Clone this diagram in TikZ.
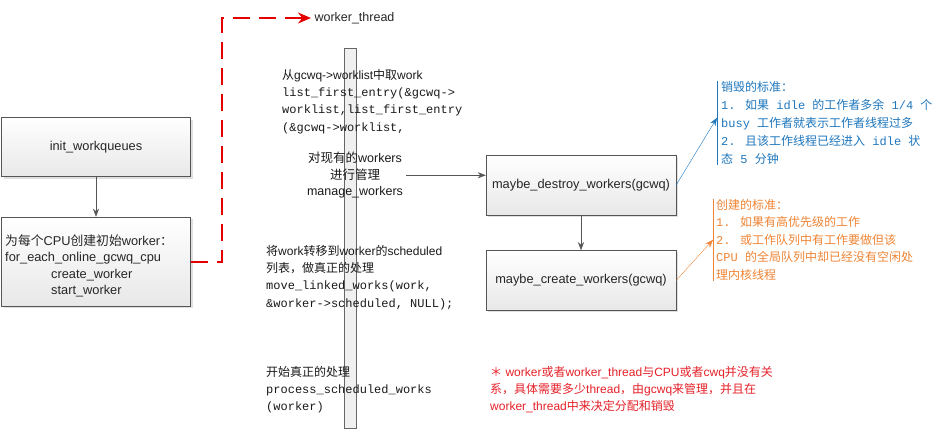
\documentclass[tikz,border=0pt]{standalone}
\usepackage{fontspec}
\setmainfont{Liberation Sans}
\newfontfamily\cjk{Noto Sans CJK SC}
\newfontfamily\mono{Liberation Mono}
\newcommand{\zh}[1]{{\cjk #1}}
\usetikzlibrary{arrows.meta,positioning,shadows}
\definecolor{boxline}{RGB}{85,85,85}
\definecolor{killblue}{RGB}{30,118,188}
\definecolor{makeorange}{RGB}{238,132,52}
\definecolor{noteRed}{RGB}{228,32,40}
\tikzstyle{box} = [rectangle, minimum width=189pt, minimum height=59pt,
draw=boxline, top color=white, bottom color=black!9, text=black!85,
drop shadow={opacity=0.25,shadow xshift=2pt,shadow yshift=-2pt},
font=\fontsize{12.8}{16.5}\selectfont]
\tikzstyle{note} = [anchor=north west, align=left, inner sep=0pt,
text=black!90, font=\fontsize{12}{17.3}\selectfont]
\tikzstyle{arrow} = [draw=boxline, -{Stealth[length=8pt,width=6pt]}]
\tikzstyle{reddash} = [draw=red!90!black, line width=2.4pt, dash pattern=on 17pt off 9pt,
-{Stealth[length=13pt,width=11pt]}]
\tikzset{>=stealth}

\begin{document}
\begin{tikzpicture}[x=1pt,y=-1pt]
    \useasboundingbox (0,0) rectangle (941,431);
    % left column
    \node[box] (init) at (96,147) {init\_workqueues};
    \node[box, minimum height=89pt, below=40pt of init] (percpu) {};
    \node[note, text=black!85, font=\fontsize{12.8}{16.5}\selectfont] (percputext) at (5,234)
        {\zh{为每个}CPU\zh{创建初始}worker\zh{：}\\
         for\_each\_online\_gcwq\_cpu\\
         \hspace*{46pt}create\_worker\\
         \hspace*{46pt}start\_worker};
    \draw[arrow] (init) -- (percpu);
    % worker_thread
    \node[anchor=west, text=black!85, font=\fontsize{12.5}{14}\selectfont] (thread) at (311,18) {worker\_thread};
    \coordinate (bend) at (222,262);
    \draw[reddash] (percpu.east |- bend) -- (bend) |- (thread.west);
    % the thread body
    \node[draw=black!60, fill=black!6, minimum width=12pt, minimum height=380pt, inner sep=0pt] (spine) at (350,238) {};
    \node[note] (fetch) at (282,69)
        {\zh{从}gcwq->worklist\zh{中取}work\\
         {\mono list\_first\_entry(\&gcwq->}\\
         {\mono worklist,list\_first\_entry}\\
         {\mono (\&gcwq->worklist,}};
    \node[note, anchor=north, align=center, font=\fontsize{12.5}{16.5}\selectfont] (manage) at (355,152)
        {\zh{对现有的}workers\\ \zh{进行管理}\\ manage\_workers};
    \node[note] (move) at (266,245)
        {\zh{将}work\zh{转移到}worker\zh{的}scheduled\\
         \zh{列表，做真正的处理}\\
         {\mono move\_linked\_works(work,}\\
         {\mono \&worker->scheduled, NULL);}};
    \node[note] (process) at (266,366)
        {\zh{开始真正的处理}\\
         {\mono process\_scheduled\_works}\\
         {\mono (worker)}};
    % right column
    \node[box, minimum width=190pt, minimum height=60pt] (destroy) at (581,185) {maybe\_destroy\_workers(gcwq)};
    \node[box, minimum width=190pt, minimum height=60pt, below=35pt of destroy] (create) {maybe\_create\_workers(gcwq)};
    \draw[arrow] ([xshift=3pt]manage.east) -- (manage.east -| destroy.west);
    \draw[arrow] (destroy) -- (create);
    % criteria
    \node[note, text=killblue, font=\mono\fontsize{12}{18}\selectfont] (kill) at (721,81)
        {\zh{销毁的标准：}\\
         1. \zh{如果} idle \zh{的工作者多余} 1/4 \zh{个}\\
         busy \zh{工作者就表示工作者线程过多}\\
         2. \zh{且该工作线程已经进入} idle \zh{状}\\
         \zh{态} 5 \zh{分钟}};
    \draw[killblue] ([xshift=-4pt]kill.north west) -- ([xshift=-4pt]kill.south west);
    \draw[killblue, -{Stealth[length=8pt,width=6pt]}] (destroy.east) -- ([xshift=-4pt,yshift=5pt]kill.west);
    \node[note, text=makeorange, font=\mono\fontsize{12}{17.5}\selectfont] (spawn) at (716,199)
        {\zh{创建的标准：}\\
         1. \zh{如果有高优先级的工作}\\
         2. \zh{或工作队列中有工作要做但该}\\
         CPU \zh{的全局队列中却已经没有空闲处}\\
         \zh{理内核线程}};
    \draw[makeorange] ([xshift=-3pt]spawn.north west) -- ([xshift=-3pt]spawn.south west);
    \draw[makeorange, -{Stealth[length=8pt,width=6pt]}] (create.east) -- ([xshift=-3pt]spawn.west);
    % remark
    \node[note, text=noteRed] (remark) at (490,366)
        {\zh{＊} worker\zh{或者}worker\_thread\zh{与}CPU\zh{或者}cwq\zh{并没有关}\\
         \zh{系，具体需要多少}thread\zh{，由}gcwq\zh{来管理，并且在}\\
         worker\_thread\zh{中来决定分配和销毁}};
\end{tikzpicture}
\end{document}
